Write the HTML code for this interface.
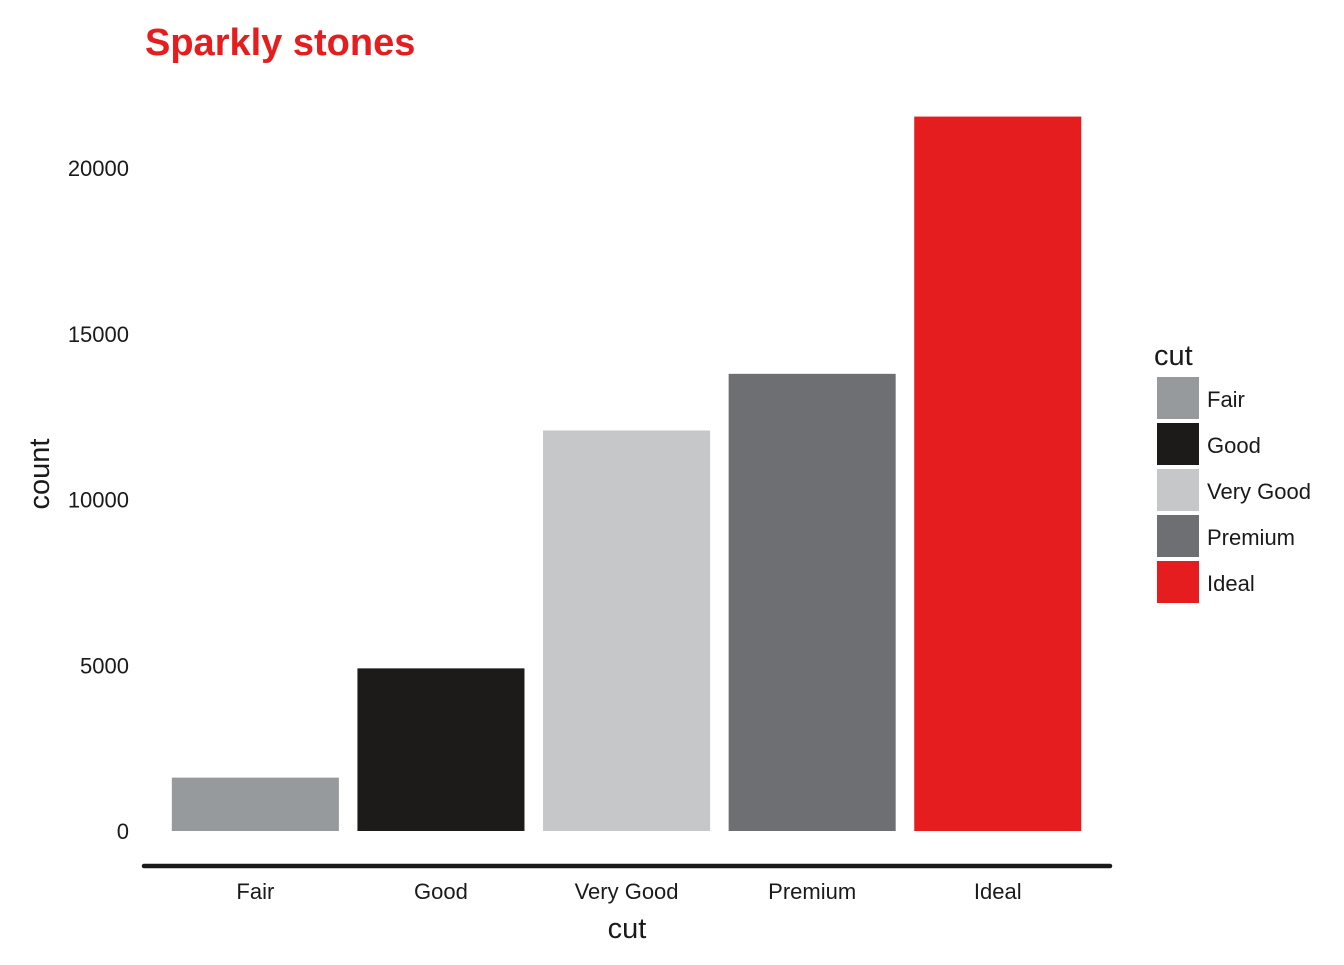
<!DOCTYPE html>
<html><head><meta charset="utf-8"><style>
body{margin:0;background:#fff;}
svg text{font-family:"Liberation Sans",Arial,sans-serif;}
</style></head><body>
<svg id="chart" width="1344" height="960">
<text x="145" y="55" font-size="38" font-weight="bold" fill="#e61d1f" style="font-size:38px">Sparkly stones</text>
<g id="bars"></g>
<g id="yticks"></g>
<g id="xticks"></g>
<line x1="144" y1="866" x2="1110" y2="866" stroke="#1a1a1a" stroke-width="4.5" stroke-linecap="round"/>
<text x="627" y="938" font-size="29" text-anchor="middle" fill="#1a1a1a">cut</text>
<text transform="translate(49,474) rotate(-90)" font-size="29" text-anchor="middle" fill="#1a1a1a">count</text>
<g id="legend">
<text x="1154" y="365" font-size="29" fill="#1a1a1a">cut</text>
</g>
</svg>
<script>
const categories=["Fair","Good","Very Good","Premium","Ideal"];
const counts=[1610,4906,12082,13791,21551];
const colors=["#979a9c","#1c1b1a","#c6c7c9","#6e6f73","#e61d1f"];
const yTicks=[0,5000,10000,15000,20000];
const NS="http://www.w3.org/2000/svg";
const y0=831, pxPer=663/20000;
const yScale=v=>y0-v*pxPer;
const band=185.6, left=144;
const xCenter=i=>left+band*(0.6+i);
const bw=band*0.9;
const bars=document.getElementById('bars');
categories.forEach((c,i)=>{
 const r=document.createElementNS(NS,'rect');
 r.setAttribute('x',xCenter(i)-bw/2);
 r.setAttribute('y',yScale(counts[i]));
 r.setAttribute('width',bw);
 r.setAttribute('height',y0-yScale(counts[i]));
 r.setAttribute('fill',colors[i]);
 
 
 bars.appendChild(r);
 const t=document.createElementNS(NS,'text');
 t.setAttribute('x',xCenter(i));t.setAttribute('y',899);
 t.setAttribute('text-anchor','middle');t.setAttribute('font-size','22');t.setAttribute('fill','#1a1a1a');
 t.textContent=c;
 
 
 document.getElementById('xticks').appendChild(t);
 const k=document.createElementNS(NS,'rect');
 k.setAttribute('x',1157);k.setAttribute('y',377+46*i);k.setAttribute('width',42);k.setAttribute('height',42);
 k.setAttribute('fill',colors[i]);
 
 
 document.getElementById('legend').appendChild(k);
 const l=document.createElementNS(NS,'text');
 l.setAttribute('x',1207);l.setAttribute('y',407+46*i);l.setAttribute('font-size','22');l.setAttribute('fill','#1a1a1a');
 l.textContent=c;
 
 
 document.getElementById('legend').appendChild(l);
});
yTicks.forEach(v=>{
 const t=document.createElementNS(NS,'text');
 t.setAttribute('x',129);t.setAttribute('y',yScale(v)+8);
 t.setAttribute('text-anchor','end');t.setAttribute('font-size','22');t.setAttribute('fill','#1a1a1a');
 t.textContent=v;
 
 
 document.getElementById('yticks').appendChild(t);
});
</script>
</body></html>
